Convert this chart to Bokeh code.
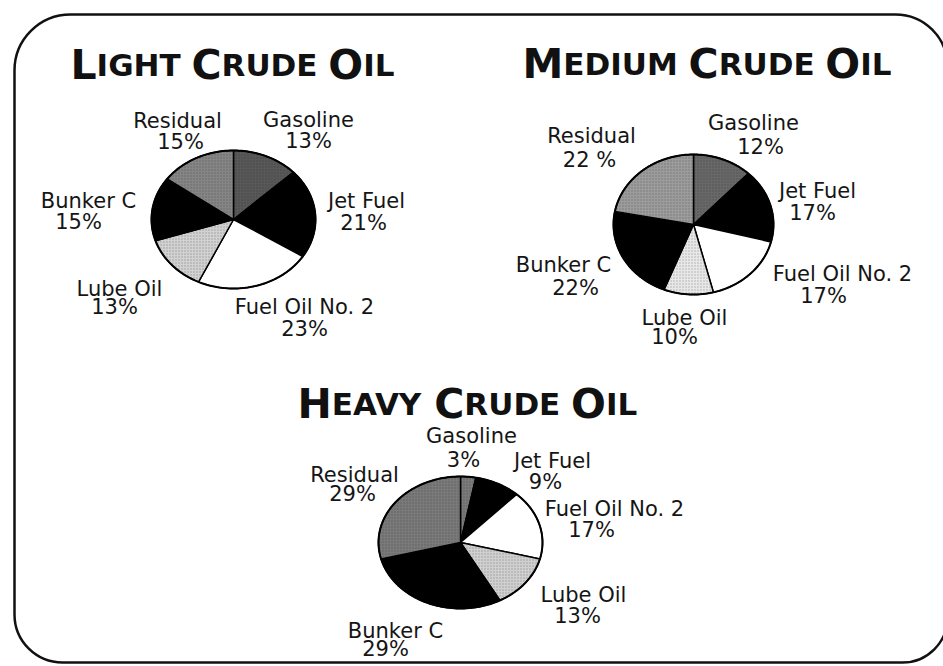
import numpy as np
from bokeh.plotting import figure
from bokeh.models import Range1d, BoxAnnotation, ColumnDataSource
from bokeh.core.properties import value
from bokeh.embed import file_html
from bokeh.resources import INLINE

# ---------------- data ----------------
categories = ["Gasoline", "Jet Fuel", "Fuel Oil No. 2", "Lube Oil", "Bunker C", "Residual"]
light_values = [13, 21, 23, 13, 15, 15]
medium_values = [12, 17, 17, 10, 22, 22]
heavy_values = [3, 9, 17, 13, 29, 29]
light_pct_labels = ["13%", "21%", "23%", "13%", "15%", "15%"]
medium_pct_labels = ["12%", "17%", "17%", "10%", "22%", "22 %"]
heavy_pct_labels = ["3%", "9%", "17%", "13%", "29%", "29%"]
titles = ["Light Crude Oil", "Medium Crude Oil", "Heavy Crude Oil"]

# ---------------- styles / layout ----------------
light_colors = ["#585858", "#000000", "#ffffff", "#d2d2d2", "#000000", "#858585"]
medium_colors = ["#686868", "#000000", "#ffffff", "#e8e8e8", "#000000", "#9c9c9c"]
heavy_colors = ["#7a7a7a", "#000000", "#ffffff", "#d0d0d0", "#000000", "#7a7a7a"]
hatches = ["dot", " ", " ", "dot", " ", "dot"]

charts = [
    dict(values=light_values, pcts=light_pct_labels, colors=light_colors, title=titles[0],
         center=(233, 219), rx=82, ry=69, title_pos=(70, 64),
         name_pos=[(308, 119), (366, 200), (304, 306), (119, 288), (88, 200), (177, 120)],
         pct_pos=[(308, 140), (363, 222), (304, 328), (114, 306), (78, 221), (180, 141)]),
    dict(values=medium_values, pcts=medium_pct_labels, colors=medium_colors, title=titles[1],
         center=(693, 224), rx=80, ry=70, title_pos=(522, 63),
         name_pos=[(753, 122), (817, 190), (842, 273), (684, 317), (563, 264), (591, 135)],
         pct_pos=[(760, 146), (812, 212), (823, 295), (674, 336), (575, 287), (589, 159)]),
    dict(values=heavy_values, pcts=heavy_pct_labels, colors=heavy_colors, title=titles[2],
         center=(460, 542), rx=82, ry=66, title_pos=(297, 403),
         name_pos=[(471, 435), (552, 460), (614, 508), (583, 594), (395, 630), (354, 474)],
         pct_pos=[(463, 459), (545, 481), (591, 529), (577, 615), (385, 648), (352, 493)]),
]

W, H = 943, 666
p = figure(width=W, height=H, x_range=Range1d(0, W), y_range=Range1d(H, 0),
           output_backend="svg", toolbar_location=None, min_border=0)
p.xaxis.visible = False
p.yaxis.visible = False
p.grid.visible = False
p.outline_line_color = None
p.background_fill_color = "white"

border = BoxAnnotation(left=14, right=947, top=14, bottom=662, fill_color=None, fill_alpha=0,
                       line_color="#111111", line_alpha=1.0, line_width=2.5,
                       border_radius=(56, 52, 45, 48))
p.add_layout(border)

# DejaVu Sans Bold advance widths (em)
WID = {"A": .774, "C": .734, "D": .830, "E": .683, "G": .821, "H": .837, "I": .372,
       "L": .637, "M": .995, "O": .850, "R": .770, "T": .682, "U": .812, "V": .774,
       "Y": .725, "N": .837, " ": .348}
BIG, SMALL = 41, 31

for ch in charts:
    cx, cy = ch["center"]
    rx, ry = ch["rx"], ch["ry"]
    vals = np.array(ch["values"], dtype=float)
    frac = vals / vals.sum()
    ends = np.cumsum(frac) * 2 * np.pi
    starts = ends - frac * 2 * np.pi
    xs, ys = [], []
    for a0, a1 in zip(starts, ends):
        t = np.linspace(a0, a1, max(3, int((a1 - a0) * 60)))
        xs.append([cx] + list(cx + rx * np.sin(t)))
        ys.append([cy] + list(cy - ry * np.cos(t)))
    src = ColumnDataSource(dict(xs=xs, ys=ys, color=ch["colors"], hatch=hatches, cat=categories))
    p.patches("xs", "ys", source=src, fill_color="color", line_color="black", line_width=1.5,
              hatch_pattern="hatch", hatch_color="#222222", hatch_alpha=0.3, hatch_scale=3)
    t = np.linspace(0, 2 * np.pi, 200)
    p.line(cx + rx * np.sin(t), cy - ry * np.cos(t), line_color="black", line_width=2)

    nx = [q[0] for q in ch["name_pos"]]
    ny = [q[1] for q in ch["name_pos"]]
    px = [q[0] for q in ch["pct_pos"]]
    py = [q[1] for q in ch["pct_pos"]]
    p.text(nx, ny, text=categories, text_font=value("DejaVu Sans"), text_font_size="21px",
           text_align="center", text_baseline="middle", text_color="#151515")
    p.text(px, py, text=ch["pcts"], text_font=value("DejaVu Sans"), text_font_size="21px",
           text_align="center", text_baseline="middle", text_color="#151515")

    # small-caps title
    x0, yb = ch["title_pos"]
    big_x, big_t, small_x, small_t = [], [], [], []
    cur = x0
    for wi, word in enumerate(ch["title"].upper().split(" ")):
        if wi > 0:
            cur += WID[" "] * SMALL
        big_x.append(cur)
        big_t.append(word[0])
        cur += WID[word[0]] * BIG
        rest = word[1:]
        if rest:
            small_x.append(cur)
            small_t.append(rest)
            cur += sum(WID[c] for c in rest) * SMALL
    p.text(big_x, [yb] * len(big_x), text=big_t, text_font=value("DejaVu Sans"),
           text_font_style="bold", text_font_size=f"{BIG}px", text_align="left",
           text_baseline="alphabetic", text_color="#111111")
    p.text(small_x, [yb] * len(small_x), text=small_t, text_font=value("DejaVu Sans"),
           text_font_style="bold", text_font_size=f"{SMALL}px", text_align="left",
           text_baseline="alphabetic", text_color="#111111")

open("out.html", "w").write(file_html(p, INLINE))
